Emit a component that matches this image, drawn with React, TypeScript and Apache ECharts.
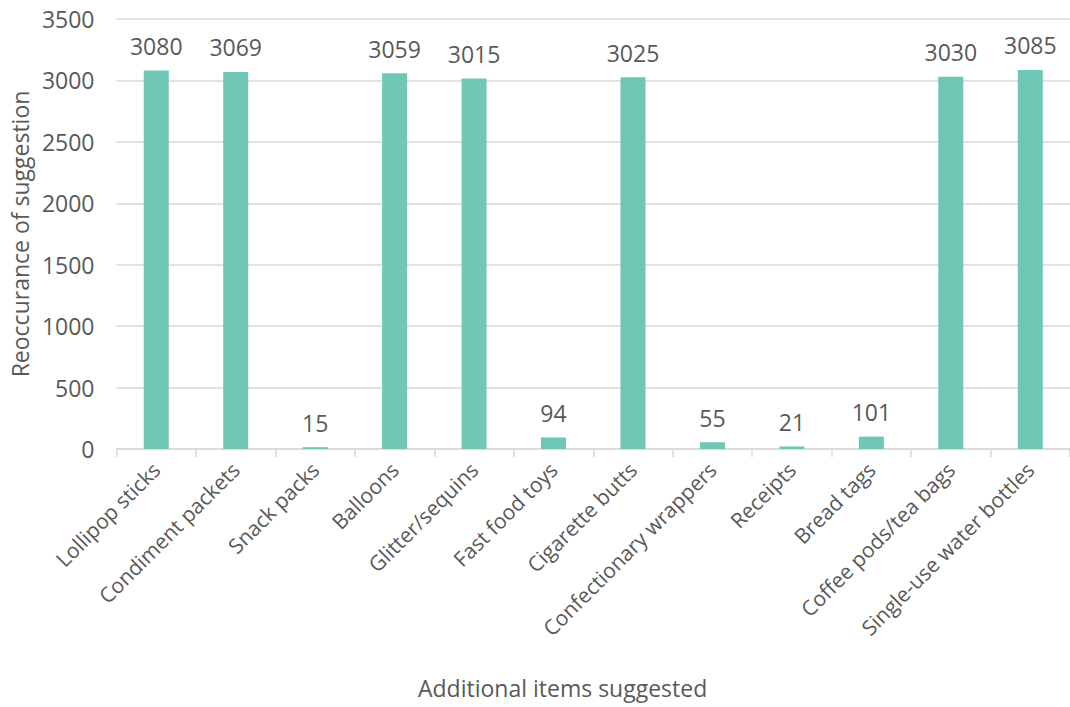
import React, { useEffect, useRef } from "react";
import * as echarts from "echarts";

const categories = [
  "Lollipop sticks",
  "Condiment packets",
  "Snack packs",
  "Balloons",
  "Glitter/sequins",
  "Fast food toys",
  "Cigarette butts",
  "Confectionary wrappers",
  "Receipts",
  "Bread tags",
  "Coffee pods/tea bags",
  "Single-use water bottles",
];
const values = [3080, 3069, 15, 3059, 3015, 94, 3025, 55, 21, 101, 3030, 3085];
const yTicks = { min: 0, max: 3500, interval: 500 };
const xTitle = "Additional items suggested";
const yTitle = "Reoccurance of suggestion";

const FONT = "'Open Sans', sans-serif";
const TXT = "#595959";
const FS = 23;

export default function App() {
  const ref = useRef<HTMLDivElement>(null);
  useEffect(() => {
    const chart = echarts.init(ref.current!, null, { renderer: "svg" });
    chart.setOption({
      animation: false,
      textStyle: { fontFamily: FONT },
      grid: { left: 115, right: -6, top: 19, bottom: 258 },
      xAxis: {
        type: "category",
        data: categories,
        axisLine: { lineStyle: { color: "#D9D9D9", width: 1.5 } },
        axisTick: { show: true, length: 8, lineStyle: { color: "#D9D9D9", width: 1.5 } },
        axisLabel: {
          rotate: 45,
          interval: 0,
          margin: 17,
          color: TXT,
          fontSize: 21,
          fontFamily: FONT,
        },
      },
      yAxis: {
        type: "value",
        min: yTicks.min,
        max: yTicks.max,
        interval: yTicks.interval,
        name: yTitle,
        nameLocation: "middle",
        nameGap: 80,
        nameTextStyle: { color: TXT, fontSize: FS, fontFamily: FONT },
        axisLine: { show: false },
        axisTick: { show: false },
        axisLabel: {
          color: TXT,
          fontSize: FS,
          fontFamily: FONT,
          margin: 22,
          formatter: (v: number) => String(v),
        },
        splitLine: { lineStyle: { color: "#D9D9D9", width: 1.5 } },
      },
      series: [
        {
          type: "bar",
          data: values,
          barWidth: 25,
          itemStyle: { color: "#70C7B5" },
          label: {
            show: true,
            position: "top",
            distance: 13,
            color: TXT,
            fontSize: FS,
            fontFamily: FONT,
          },
        },
      ],
      graphic: [
        {
          type: "text",
          left: 418,
          top: 676,
          style: { text: xTitle, fill: TXT, fontSize: FS, fontFamily: FONT },
        },
      ],
    });
    return () => chart.dispose();
  }, []);
  return (
    <div
      ref={ref}
      style={{ position: "absolute", left: 0, top: 0, width: 1070, height: 707, background: "#fff" }}
    />
  );
}
